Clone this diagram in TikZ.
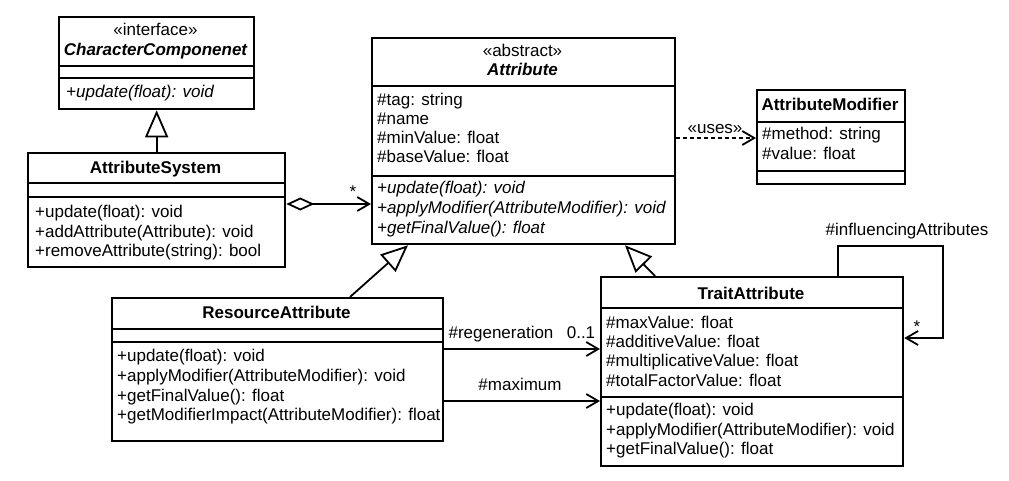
\documentclass[tikz,border=0pt]{standalone}
\usepackage{fontspec}
\setmainfont{Liberation Sans}
\usetikzlibrary{arrows.meta}
\newcommand\umlclass[7]{%
  \node[box, minimum width={#4-#2}, minimum height={#5-#3}, anchor=north west] (#1) at (#2,#3) {};
  \draw[sep] (#2,#6) -- (#4,#6);
  \draw[sep] (#2,#7) -- (#4,#7);}
\begin{document}
\begin{tikzpicture}[x=1pt,y=-1pt,
  box/.style={draw, line width=2.3pt, inner sep=0pt, fill=white},
  sep/.style={line width=2pt},
  txt/.style={font=\fontsize{17}{20}\selectfont, inner sep=0pt, text height=12.5pt, text depth=3.5pt},
  lt/.style={txt, anchor=west},
  it/.style={txt, anchor=west, font=\fontsize{17}{20}\selectfont\itshape},
  nm/.style={txt, font=\fontsize{17}{20}\selectfont\bfseries},
  nmi/.style={txt, font=\fontsize{17}{20}\selectfont\bfseries\itshape},
  conn/.style={line width=1.8pt},
  inh/.style={conn, -{Triangle[open, length=27pt, width=23pt, line width=1.8pt]}},
  assoc/.style={conn, -{Straight Barb[length=12pt, width=14pt, line width=1.8pt]}},
]
\useasboundingbox[fill=white] (0,0) rectangle (1009,480);

% ---- boxes ----
\umlclass{cc}{58}{16}{253}{108}{66}{78}
\umlclass{as}{27}{152}{284}{266}{183}{197}
\umlclass{attr}{371}{37}{674}{243}{86}{176}
\umlclass{am}{756}{89}{904}{183}{122}{171}
\umlclass{ra}{111}{297}{442}{440}{329}{342}
\umlclass{ta}{600}{276}{902}{465}{308}{397}

% ---- CharacterComponenet ----
\node[txt] (ccst) at (155.5,31) {«interface»};
\node[nmi] (ccnm) at (155.5,51) {CharacterComponenet};
\node[it] (ccm1) at (66,93) {+update(float): void};

% ---- AttributeSystem ----
\node[nm] (asnm) at (155.5,169) {AttributeSystem};
\node[lt] (asm1) at (35,213) {+update(float): void};
\node[lt] (asm2) at (35,233) {+addAttribute(Attribute): void};
\node[lt] (asm3) at (35,252) {+removeAttribute(string): bool};

% ---- Attribute ----
\node[txt] (attrst) at (522.5,52) {«abstract»};
\node[nmi] (attrnm) at (522.5,71) {Attribute};
\node[lt] (attra1) at (377,101) {\#tag: string};
\node[lt] (attra2) at (377,120) {\#name};
\node[lt] (attra3) at (377,139) {\#minValue: float};
\node[lt] (attra4) at (377,158) {\#baseValue: float};
\node[it] (attrm1) at (377,189) {+update(float): void};
\node[it] (attrm2) at (377,209) {+applyModifier(AttributeModifier): void};
\node[it] (attrm3) at (377,229) {+getFinalValue(): float};

% ---- AttributeModifier ----
\node[nm] (amnm) at (830,106) {AttributeModifier};
\node[lt] (ama1) at (762,135) {\#method: string};
\node[lt] (ama2) at (762,155) {\#value: float};

% ---- ResourceAttribute ----
\node[nm] (ranm) at (276.5,314) {ResourceAttribute};
\node[lt] (ram1) at (117,357) {+update(float): void};
\node[lt] (ram2) at (117,377) {+applyModifier(AttributeModifier): void};
\node[lt] (ram3) at (117,397) {+getFinalValue(): float};
\node[lt] (ram4) at (117,416) {+getModifierImpact(AttributeModifier): float};

% ---- TraitAttribute ----
\node[nm] (tanm) at (751,295) {TraitAttribute};
\node[lt] (taa1) at (606,324) {\#maxValue: float};
\node[lt] (taa2) at (606,343) {\#additiveValue: float};
\node[lt] (taa3) at (606,362) {\#multiplicativeValue: float};
\node[lt] (taa4) at (606,382) {\#totalFactorValue: float};
\node[lt] (tam1) at (606,411) {+update(float): void};
\node[lt] (tam2) at (606,431) {+applyModifier(AttributeModifier): void};
\node[lt] (tam3) at (606,450) {+getFinalValue(): float};

% ---- connectors ----
\draw[inh] (as.north) -- (cc.south);
\draw[inh] (ra.north -| 350,0) -- (attr.south -| 408,0);
\draw[inh] (ta.north -| 655,0) -- (attr.south -| 625,0);
\draw[conn, {Diamond[open, length=28pt, width=13pt, line width=1.8pt]}-{Straight Barb[length=12pt, width=14pt, line width=1.8pt]}]
  (as.east |- 0,204) -- (attr.west |- 0,204);
\node[txt] (aggm) at (353,193) {*};
\draw[assoc, dash pattern=on 4pt off 3pt] (attr.east |- 0,138) -- (am.west |- 0,138);
\node[txt] (uses) at (715,129) {«uses»};
\draw[assoc] (ra.east |- 0,349) -- (ta.west |- 0,349);
\node[txt] (regen) at (501,334) {\#regeneration};
\node[txt] (regenm) at (581,334) {0..1};
\draw[assoc] (ra.east |- 0,401) -- (ta.west |- 0,401);
\node[txt] (maxl) at (520,386) {\#maximum};
\draw[assoc] (ta.north -| 838,0) -- (838,246) -| (943,338) -- (ta.east |- 0,338);
\node[txt] (selfm) at (917,328) {*};
\node[txt] (infl) at (907,231) {\#influencingAttributes};
\end{tikzpicture}
\end{document}
